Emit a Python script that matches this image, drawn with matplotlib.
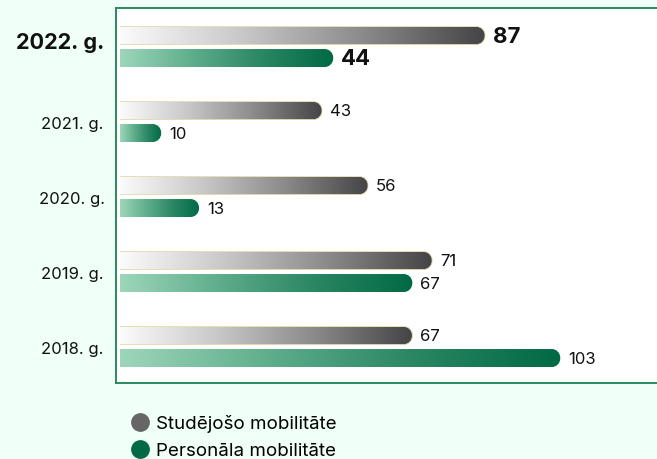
import numpy as np
import matplotlib
matplotlib.use("Agg")
import matplotlib.pyplot as plt
from matplotlib.path import Path
from matplotlib.patches import PathPatch
from matplotlib.lines import Line2D
from matplotlib.transforms import blended_transform_factory
from matplotlib.colors import LinearSegmentedColormap

plt.rcParams['font.family'] = ['Inter', 'DejaVu Sans']

# data (top to bottom)
years = ['2022. g.', '2021. g.', '2020. g.', '2019. g.', '2018. g.']
students = [87, 43, 56, 71, 67]          # Studējošo mobilitāte (labels)
staff = [44, 10, 13, 67, 103]            # Personāla mobilitāte (labels)
# bar lengths as drawn in the picture (not strictly proportional to the labels)
students_len = [85.3, 47.4, 58.1, 73.0, 68.4]
staff_len = [50.0, 10.0, 18.8, 68.4, 102.8]
series_names = ['Studējošo mobilitāte', 'Personāla mobilitāte']

BG = '#f0fff7'
SPINE = '#2a8a5f'
gray_cmap = LinearSegmentedColormap.from_list('g', ['#fbfbfb', '#c8c8c8', '#8a8a8a', '#444446'])
green_cmap = LinearSegmentedColormap.from_list('s', ['#9dd6bb', '#5fae8c', '#2a8663', '#006a44'])

fig = plt.figure(figsize=(6.57, 4.6), dpi=100, facecolor=BG)
ax = fig.add_axes([116 / 657, 1 - 384 / 460, 1 - 116 / 657, 375 / 460])
ax.set_facecolor('white')
ax.set_xlim(-0.5, 125.3)
ax.set_ylim(4.483, -0.517)
for s in ['left', 'top', 'bottom']:
    ax.spines[s].set_color(SPINE)
    ax.spines[s].set_linewidth(1.4)
ax.spines['right'].set_visible(False)
ax.set_xticks([])
ax.set_yticks([])

px_x = 4.3   # pixels per x unit
px_y = 75.0  # pixels per y unit
h = 0.24
off = 0.15
grad = np.linspace(0, 1, 256).reshape(1, -1)


def rounded_bar(x1, yc, cmap, edge=None):
    x0 = 0.4
    hy = h / 2
    r = 8.5
    rx, ry = r / px_x, min(r / px_y, hy)
    k = 0.5523
    yt, yb = yc - hy, yc + hy
    verts = [(x0, yt), (x1 - rx, yt),
             (x1 - rx + k * rx, yt), (x1, yt + ry - k * ry), (x1, yt + ry),
             (x1, yb - ry),
             (x1, yb - ry + k * ry), (x1 - rx + k * rx, yb), (x1 - rx, yb),
             (x0, yb), (x0, yt)]
    codes = [Path.MOVETO, Path.LINETO,
             Path.CURVE4, Path.CURVE4, Path.CURVE4,
             Path.LINETO,
             Path.CURVE4, Path.CURVE4, Path.CURVE4,
             Path.LINETO, Path.CLOSEPOLY]
    path = Path(verts, codes)
    patch = PathPatch(path, facecolor='none', edgecolor='none')
    ax.add_patch(patch)
    im = ax.imshow(grad, cmap=cmap, aspect='auto', extent=[x0, x1, yb, yt],
                   interpolation='bicubic', zorder=2)
    im.set_clip_path(patch)
    if edge:
        # outline on top, right end and bottom only
        open_path = Path(verts[:-1], codes[:-1])
        ax.add_patch(PathPatch(open_path, facecolor='none', edgecolor=edge,
                               lw=0.6, zorder=3))


ytr = blended_transform_factory(fig.transFigure, ax.transData)
for i, yr in enumerate(years):
    yg, ys = i - off, i + off
    rounded_bar(students_len[i], yg, gray_cmap, edge='#e2d8ac')
    rounded_bar(staff_len[i], ys, green_cmap)
    bold = i == 0
    fs = 16 if bold else 12
    fw = 'bold' if bold else 'normal'
    ax.text(students_len[i] + 1.9, yg, str(students[i]), fontsize=fs, fontweight=fw,
            va='center', ha='left', color='#111111')
    ax.text(staff_len[i] + 1.9, ys, str(staff[i]), fontsize=fs, fontweight=fw,
            va='center', ha='left', color='#111111')
    if bold:
        ax.text(104 / 657, i - 0.06, yr, fontsize=15.6, fontweight='bold', ha='right',
                va='center', color='#111111', transform=ytr)
    else:
        ax.text(72 / 657, i + 0.02, yr, fontsize=12, ha='center', va='center',
                color='#111111', transform=ytr)

handles = [Line2D([], [], ls='none', marker='o', markersize=12.5, color='#666666'),
           Line2D([], [], ls='none', marker='o', markersize=12.5, color='#006a44')]
fig.legend(handles, series_names, loc='upper left', bbox_to_anchor=(120 / 657, 1 - 406 / 460),
           frameon=False, fontsize=13.5, handletextpad=0.3, labelspacing=0.52,
           handlelength=1.1, borderpad=0)

fig.savefig('out.png', dpi=100, facecolor=BG)
